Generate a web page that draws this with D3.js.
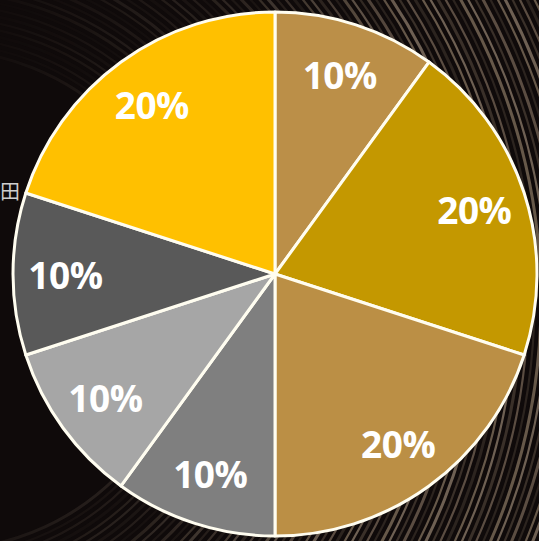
<!DOCTYPE html>
<html>
<head>
<meta charset="utf-8">
<script src="https://cdn.jsdelivr.net/npm/d3@7"></script>
<style>
  html, body { margin: 0; padding: 0; background: #0e0909; overflow: hidden; }
  svg { display: block; }
</style>
</head>
<body>
<svg id="chart" width="539" height="541"></svg>
<script>
// Share of each segment, clockwise from 12 o'clock
const segments = ["A", "B", "C", "D", "E", "F", "G"];
const shares = [10, 20, 20, 10, 10, 10, 20];
const labels = ["10%", "20%", "20%", "10%", "10%", "10%", "20%"];
const colors = ["#BB8F48", "#C49800", "#BB8F45", "#7F7F7F", "#A6A6A6", "#595959", "#FFC000"];

const W = 539, H = 541;
const cx = 275, cy = 274, R = 262;

const svg = d3.select("#chart");
const defs = svg.append("defs");

// backdrop: dark ground with curved streaks that brighten to the right
const fade = defs.append("linearGradient").attr("id", "fade")
  .attr("x1", 0).attr("y1", 0).attr("x2", 1).attr("y2", 0.15);
fade.append("stop").attr("offset", "0").attr("stop-color", "#fff").attr("stop-opacity", 0.04);
fade.append("stop").attr("offset", "0.4").attr("stop-color", "#fff").attr("stop-opacity", 0.3);
fade.append("stop").attr("offset", "0.75").attr("stop-color", "#fff").attr("stop-opacity", 1);
defs.append("mask").attr("id", "streakMask")
  .append("rect").attr("width", W).attr("height", H).attr("fill", "url(#fade)");

svg.append("rect").attr("width", W).attr("height", H).attr("fill", "#0f0a0a");
const streaks = svg.append("g").attr("mask", "url(#streakMask)");
const radii = d3.range(250, 780, 6.5);
const tones = ["#6e6053", "#3a3029", "#5b4d42", "#2c241f", "#665849"];
streaks.selectAll("circle").data(radii).join("circle")
  .attr("cx", -60).attr("cy", 300).attr("r", d => d)
  .attr("fill", "none")
  .attr("stroke", (d, i) => tones[i % tones.length])
  .attr("stroke-width", (d, i) => (i % 3 === 0 ? 3 : 2.2));

// small glyph at the left edge
svg.append("text").attr("x", 0).attr("y", 199)
  .attr("font-family", "Noto Sans CJK SC").attr("font-size", 20)
  .attr("fill", "#cfcfcf").text("田");

// pie
const pie = d3.pie().sort(null).value(d => d.v);
const arcs = pie(shares.map((v, i) => ({ v, name: segments[i], label: labels[i], color: colors[i] })));
const arc = d3.arc().innerRadius(0).outerRadius(R);
const labelArc = d3.arc().innerRadius(R * 0.8).outerRadius(R * 0.8);

const g = svg.append("g").attr("transform", `translate(${cx},${cy})`);
g.selectAll("path").data(arcs).join("path")
  .attr("d", arc)
  .attr("fill", d => d.data.color)
  .attr("stroke", "#fffdf0")
  .attr("stroke-width", 3)
  .attr("stroke-linejoin", "round");

g.selectAll("text").data(arcs).join("text")
  .attr("transform", d => `translate(${labelArc.centroid(d)})`)
  .attr("text-anchor", "middle")
  .attr("dominant-baseline", "central")
  .attr("font-family", "'Open Sans', 'Noto Sans', sans-serif")
  .attr("font-weight", 700)
  .attr("font-size", 37)
  .attr("letter-spacing", -0.5)
  .attr("fill", "#ffffff")
  .text(d => d.data.label);
</script>
</body>
</html>
